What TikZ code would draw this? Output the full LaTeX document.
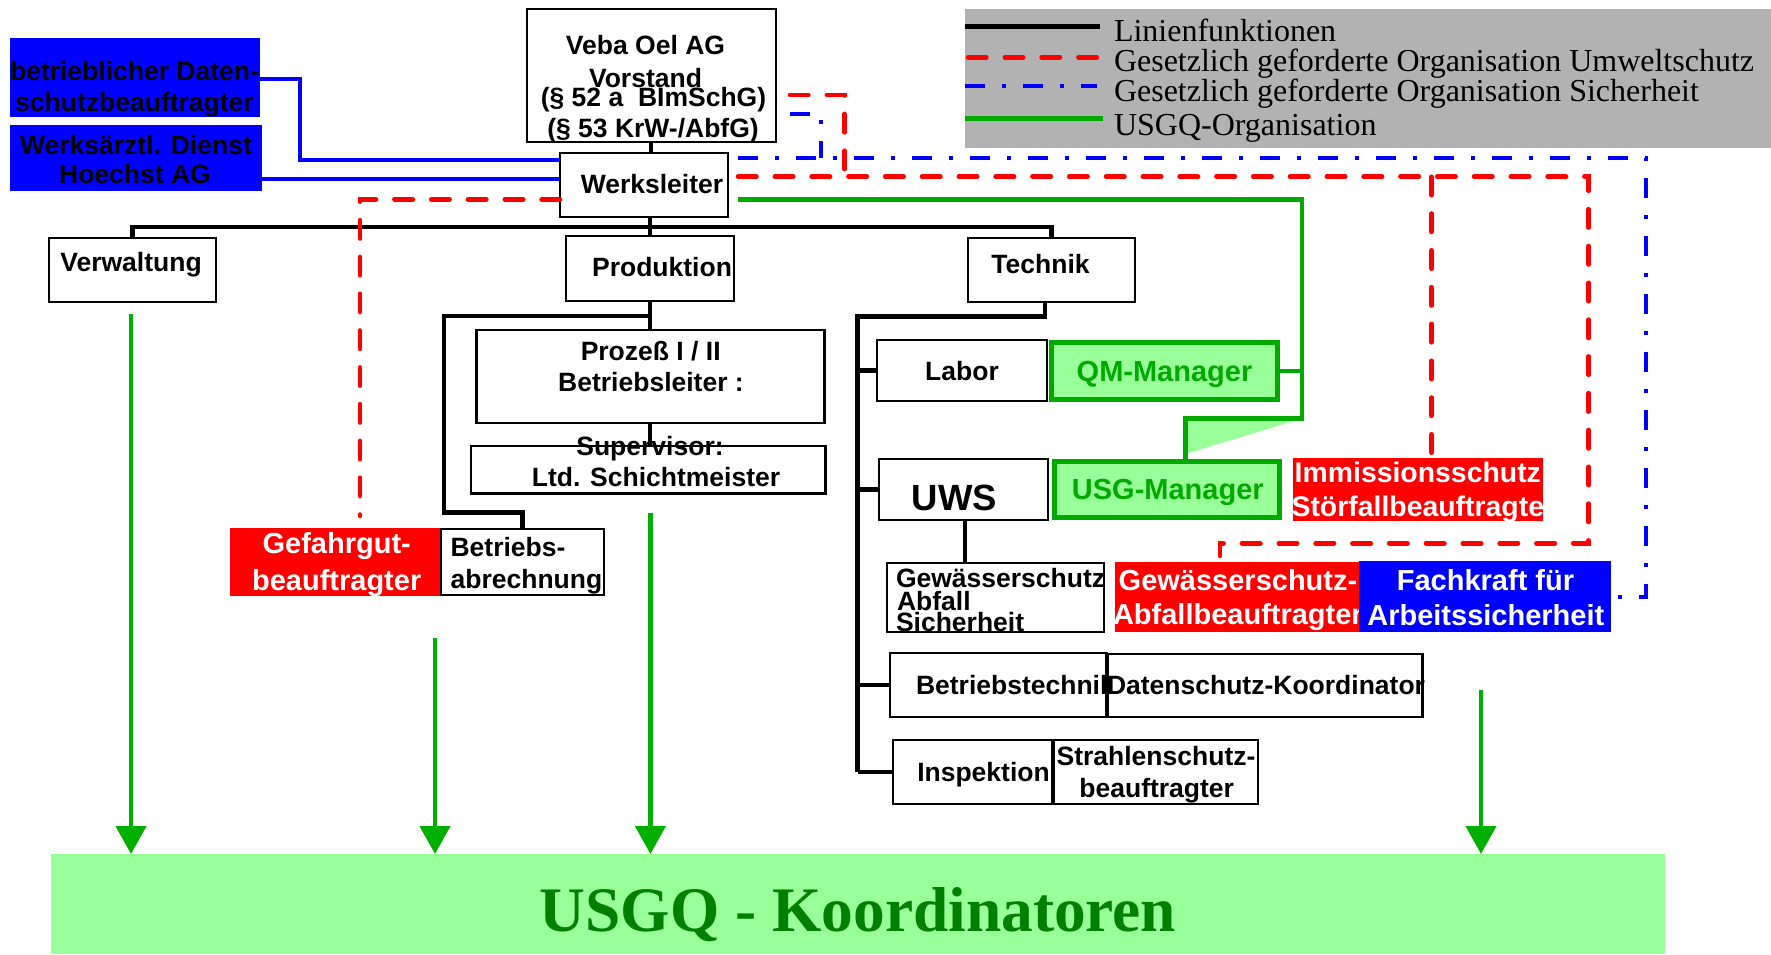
\documentclass[tikz,border=0pt]{standalone}
\usepackage{fontspec}
\setmainfont{Liberation Serif}
\setsansfont{Liberation Sans}
\usetikzlibrary{arrows.meta}

\definecolor{orgred}{RGB}{255,0,0}
\definecolor{orgblue}{RGB}{0,0,255}
\definecolor{orggreen}{RGB}{0,170,0}
\definecolor{arrowgreen}{RGB}{0,176,0}
\definecolor{lightgreen}{RGB}{153,255,153}
\definecolor{darkgreen}{RGB}{0,128,0}
\definecolor{legendgray}{RGB}{178,178,178}

\tikzset{
  box/.style={draw=black, line width=1.2pt, fill=white, inner sep=0pt, outer sep=0pt},
  redbox/.style={fill=orgred, inner sep=0pt, outer sep=0pt},
  bluebox/.style={fill=orgblue, inner sep=0pt, outer sep=0pt},
  greenbox/.style={draw=orggreen, line width=2.5pt, fill=lightgreen, inner sep=0pt, outer sep=0pt},
  lbl/.style={inner sep=0pt, outer sep=0pt, anchor=base, font=\sffamily\bfseries\fontsize{13.25}{15}\selectfont},
  lbll/.style={lbl, anchor=base west},
  biglbl/.style={lbl, font=\sffamily\bfseries\fontsize{14.5}{17}\selectfont},
  bigl/.style={biglbl, anchor=base west},
  orgline/.style={line width=2.3pt, black},
  envline/.style={orgred, line width=2.3pt, line cap=round, dash pattern=on 9.2pt off 9.2pt},
  safeline/.style={orgblue, line width=2pt, dash pattern=on 10pt off 8.5pt on 2pt off 8.5pt},
  dataline/.style={orgblue, line width=2pt},
  usgqline/.style={orggreen, line width=2.2pt},
  usgqarrow/.style={arrowgreen, line width=2.2pt, -{Triangle[length=14pt,width=15pt]}},
  legtext/.style={inner sep=0pt, outer sep=0pt, anchor=base west, font=\fontsize{16}{18}\selectfont},
}

\begin{document}
\begin{tikzpicture}[x=0.5pt, y=-0.5pt]
\useasboundingbox (0,0) rectangle (1771,954);

% ---------- legend ----------
\node[fill=legendgray, inner sep=0pt, outer sep=0pt, minimum width=403pt, minimum height=69.5pt] (legend) at (1368,78.5) {};
\coordinate (lk1) at (965,26.5);   \coordinate (lk2) at (1100,26.5);
\coordinate (lr1) at (968,57.3);   \coordinate (lr2) at (1100,57.3);
\coordinate (lb1) at (965,85.7);   \coordinate (lb2) at (1097,85.7);
\coordinate (lg1) at (965,118.3);  \coordinate (lg2) at (1103,118.3);
\draw[orgline, line width=2.4pt] (lk1) -- (lk2);
\draw[envline] (lr1) -- (lr2);
\draw[safeline] (lb1) -- (lb2);
\draw[usgqline, line width=2.4pt] (lg1) -- (lg2);
\node[legtext] (lt1) at (1114,41.7) {Linienfunktionen};
\node[legtext] (lt2) at (1114,71.7) {Gesetzlich geforderte Organisation Umweltschutz};
\node[legtext] (lt3) at (1114,101.7) {Gesetzlich geforderte Organisation Sicherheit};
\node[legtext] (lt4) at (1114,135) {USGQ-Organisation};

% ---------- top: board, plant manager, staff ----------
\node[bluebox, minimum width=124.8pt, minimum height=39.5pt] (dsb) at (134.7,77.7) {};
\node[lbl] (dsb1) at (134.5,80) {betrieblicher Daten-};
\node[lbl] (dsb2) at (134.5,111) {schutzbeauftragter};

\node[bluebox, minimum width=126pt, minimum height=33pt] (arzt) at (136,158) {};
\node[lbl] (arzt1) at (136,154) {Werksärztl. Dienst};
\node[lbl] (arzt2) at (135,183.3) {Hoechst AG};

\node[box, minimum width=124.5pt, minimum height=66.5pt] (veba) at (651.5,75.5) {};
\node[lbl] (veba1) at (645.5,54) {Veba Oel AG};
\node[lbl] (veba2) at (645.5,87.3) {Vorstand};
\node[lbl] (veba3) at (653.5,106) {(§ 52 a\ \ BImSchG)};
\node[lbl] (veba4) at (653,137.3) {(§ 53 KrW-/AbfG)};

\node[box, minimum width=84pt, minimum height=32pt] (werk) at (644,185) {};
\node[lbl] (werk1) at (652,193.3) {Werksleiter};
\path (werk.east) ++(10,0) coordinate (wke);

% ---------- departments ----------
\node[box, minimum width=83.5pt, minimum height=32pt] (verw) at (132.5,270) {};
\node[lbl] (verw1) at (131,271.7) {Verwaltung};

\node[box, minimum width=84pt, minimum height=32.5pt] (prod) at (650,268.5) {};
\node[lbl] (prod1) at (662,276) {Produktion};

\node[box, minimum width=83.5pt, minimum height=32pt] (tech) at (1051.5,270) {};
\node[lbl] (tech1) at (1040.5,273.3) {Technik};

% ---------- production branch ----------
\node[box, minimum width=174pt, minimum height=46.5pt] (proz) at (650.4,376.7) {};
\node[lbl] (proz1) at (650.7,360) {Prozeß I / II};
\node[lbl] (proz2) at (651,391.7) {Betriebsleiter :};

\node[box, minimum width=177.3pt, minimum height=23.7pt] (schicht) at (648.2,469.7) {};
\node[lbl] (schicht1) at (650,455) {Supervisor:};
\node[lbl] (schicht2) at (656,486.7) {Ltd. Schichtmeister};

\node[redbox, minimum width=105.5pt, minimum height=34pt] (gefahr) at (335.5,562) {};
\node[biglbl, text=white] (gefahr1) at (336.7,553.3) {Gefahrgut-};
\node[biglbl, text=white] (gefahr2) at (336.7,590) {beauftragter};

\node[box, minimum width=81.5pt, minimum height=33pt] (babr) at (522.5,562) {};
\node[lbll] (babr1) at (450.6,556.7) {Betriebs-};
\node[lbll] (babr2) at (450.6,588.3) {abrechnung};

% ---------- technical branch ----------
\node[box, minimum width=85pt, minimum height=30.5pt] (labor) at (962,370.5) {};
\node[lbl] (labor1) at (962,380) {Labor};

\node[greenbox, minimum width=113pt, minimum height=28.5pt] (qm) at (1164.5,371) {};
\node[biglbl, text=orggreen] (qm1) at (1164.5,381.7) {QM-Manager};

\node[box, minimum width=84.5pt, minimum height=30.5pt] (uws) at (963.5,489.5) {};
\node[lbl, font=\sffamily\bfseries\fontsize{18.25}{20}\selectfont] (uws1) at (954.3,510) {UWS};

\node[greenbox, minimum width=112.5pt, minimum height=28pt] (usg) at (1167,489.5) {};
\node[biglbl, text=orggreen] (usg1) at (1167.8,499.3) {USG-Manager};

\node[redbox, minimum width=125.2pt, minimum height=31.2pt] (imm) at (1417.8,489.5) {};
\node[lbl, text=white, font=\sffamily\bfseries\fontsize{14.2}{16}\selectfont] (imm1) at (1417.8,482.3) {Immissionsschutz};
\node[lbl, text=white, font=\sffamily\bfseries\fontsize{14.2}{16}\selectfont] (imm2) at (1417.8,516.7) {Störfallbeauftragte};

\node[box, minimum width=108.7pt, minimum height=34.5pt] (gws) at (995.4,597.2) {};
\node[lbll] (gws1) at (896,587.3) {Gewässerschutz};
\node[lbll] (gws2) at (897,610) {Abfall};
\node[lbll] (gws3) at (896,631.7) {Sicherheit};

\node[redbox, minimum width=122.5pt, minimum height=35pt] (gwr) at (1237.5,597) {};
\node[biglbl, text=white] (gwr1) at (1238,590) {Gewässerschutz-};
\node[bigl, text=white] (gwr2) at (1113,624) {Abfallbeauftragter};

\node[bluebox, minimum width=126pt, minimum height=35.5pt] (fach) at (1485,596.5) {};
\node[biglbl, text=white] (fach1) at (1485.5,590.7) {Fachkraft für};
\node[biglbl, text=white] (fach2) at (1485.8,625) {Arbeitssicherheit};

\node[box, minimum width=108.3pt, minimum height=32pt] (btech) at (998.2,685) {};
\node[lbll] (btech1) at (916,694) {Betriebstechnik};
\node[box, minimum width=157.3pt, minimum height=31.5pt] (dsk) at (1265,685.5) {};
\node[lbl] (dsk1) at (1266,694) {Datenschutz-Koordinator};

\node[box, minimum width=79.5pt, minimum height=32pt] (insp) at (972.5,772) {};
\node[lbl] (insp1) at (983.5,781.7) {Inspektion};
\node[box, minimum width=102pt, minimum height=32pt] (strahl) at (1156,772) {};
\node[lbl] (strahl1) at (1156,765) {Strahlenschutz-};
\node[lbl] (strahl2) at (1156.7,797.3) {beauftragter};

% ---------- coordinators bar ----------
\node[fill=lightgreen, inner sep=0pt, outer sep=0pt, minimum width=807pt, minimum height=50pt] (usgq) at (858,904) {};
\node[inner sep=0pt, anchor=base, text=darkgreen, font=\bfseries\fontsize{31.7}{34}\selectfont] (usgq1) at (858,931.7) {USGQ - Koordinatoren};

% ---------- line functions ----------
\draw[orgline] (veba.south -| 651,0) -- (werk.north -| 651,0);
\draw[orgline] (werk.south -| prod.north) -- (prod.north);
\draw[orgline] (verw.north) -- (verw.north |- 0,227) -- (tech.north |- 0,227) -- (tech.north);
\draw[orgline] (prod.south) -- (prod.south |- proz.north);
\draw[orgline] (prod.south |- 0,316) -| (444,512.7) -| (babr.north);
\draw[orgline] (proz.south -| 650,0) -- (schicht.north -| 650,0);
\coordinate (spine) at (857.6,316.7);
\draw[orgline] (tech.south -| 1045,0) |- (spine) -- (spine |- insp.west);
\draw[orgline] (spine |- labor.west) -- (labor.west);
\draw[orgline] (spine |- uws.west) -- (uws.west);
\draw[orgline] (spine |- btech.west) -- (btech.west);
\draw[orgline] (spine |- insp.west) -- (insp.west);
\draw[orgline] (uws.south -| 965,0) -- (gws.north -| 965,0);

% ---------- staff links ----------
\draw[dataline] (dsb.east |- 0,78.7) -- (300,78.7) -- (300,160.3) -- (werk.west |- 0,160.3);
\draw[dataline] (arzt.east |- 0,179) -- (werk.west |- 0,179);

% ---------- safety organisation ----------
\draw[safeline] (wke |- 0,158) -- (1646.4,158) -- (1646.4,596.5) -- (fach.east);
\draw[safeline] (veba.east |- 0,114) ++(14,0) -- (821,114) -- (821,158);

% ---------- environmental organisation ----------
\coordinate (gefend) at (360,516);
\draw[envline] (werk.west |- 0,199.3) -- (360,199.3) -- (gefend);
\coordinate (gwrend) at (1219.8,556);
\draw[envline] (wke |- 0,176.7) -- (1588.7,176.7) -- (1588.7,543.3) -- (1219.8,543.3) -- (gwrend);
\draw[envline] (1431.6,176.7) -- (1431.6,0 |- imm.north);
\draw[envline] (veba.east |- 0,95) ++(14,0) -- (844.7,95) -- (844.7,176.7);

% ---------- USGQ organisation ----------
\fill[lightgreen] (1187.7,420) -- (1296.8,420) -- (1187.7,453.3) -- cycle;
\draw[usgqline] (wke |- 0,199.3) -- (1302,199.3) -- (1302,418.3) -- (1185.6,418.3) -- (usg.north -| 1185.6,0);
\draw[usgqline] (qm.east) -- (qm.east -| 1302,0);

\coordinate (a1) at (131,314);
\coordinate (a2) at (435,637.7);
\coordinate (a3) at (650.4,513.3);
\coordinate (a4) at (1481,690);
\foreach \a in {a1,a2,a3,a4}
  \draw[usgqarrow] (\a) -- (\a |- usgq.north);
\end{tikzpicture}
\end{document}
